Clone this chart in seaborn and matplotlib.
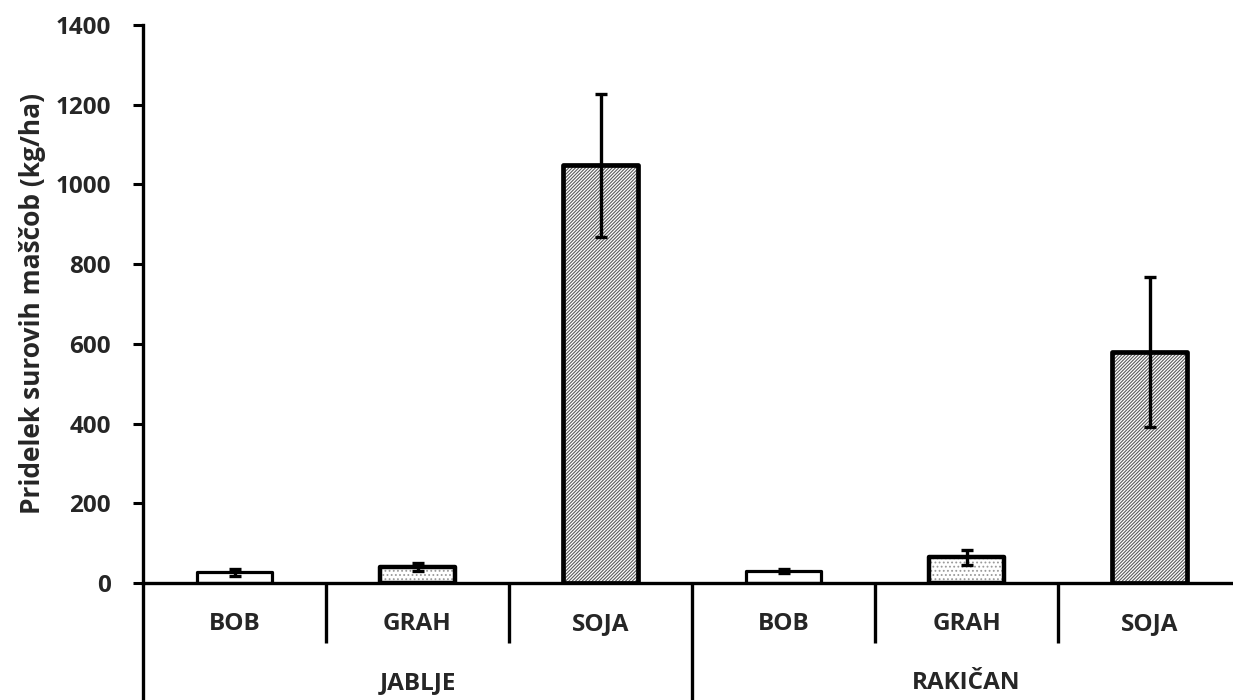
import matplotlib
matplotlib.use("Agg")
import matplotlib.pyplot as plt
import matplotlib.transforms as mtransforms
import seaborn as sns
import pandas as pd

# Crude fat yield per crop and location
locations = ["JABLJE", "RAKIČAN"]
crops = ["BOB", "GRAH", "SOJA"]
yield_jablje = [27, 40, 1048]
err_jablje = [9, 10, 180]
yield_rakican = [30, 64, 580]
err_rakican = [5, 19, 188]
y_ticks = [0, 200, 400, 600, 800, 1000, 1200, 1400]

sns.set_theme(style="white")
plt.rcParams["font.family"] = ["Open Sans", "DejaVu Sans"]
plt.rcParams["font.weight"] = "bold"
plt.rcParams["hatch.linewidth"] = 0.8

FS = 17.5

values = yield_jablje + yield_rakican
errors = err_jablje + err_rakican
labels = [f"{loc}|{c}" for loc in locations for c in crops]
df = pd.DataFrame({"cat": labels, "val": values})

W, H = 1233, 700
fig = plt.figure(figsize=(W / 100, H / 100), dpi=100)
ax = fig.add_axes([143 / W, (700 - 583) / H, (1241 - 143) / W, (583 - 25) / H])

bar_w = 0.41
sns.barplot(data=df, x="cat", y="val", order=labels, color="white",
            width=bar_w, errorbar=None, ax=ax, saturation=1)

hatches = {"BOB": "", "GRAH": "....", "SOJA": "//////////"}
hatch_cols = {"BOB": "white", "GRAH": "#9a9a9a", "SOJA": "#5a5a5a"}
lws = {"BOB": 2.3, "GRAH": 3.2, "SOJA": 3.4}
for patch, lab in zip(ax.patches, labels):
    crop = lab.split("|")[1]
    patch.set_hatch(hatches[crop])
    patch.set_edgecolor(hatch_cols[crop])
    patch.set_linewidth(0)

# black outlines on top of the hatched fills
xs = list(range(len(labels)))
for x, v, lab in zip(xs, values, labels):
    crop = lab.split("|")[1]
    ax.bar(x, v, width=bar_w, fill=False, edgecolor="black",
           linewidth=lws[crop], joinstyle="round", zorder=3)

ax.errorbar(xs, values, yerr=errors, fmt="none", ecolor="black",
            elinewidth=2.4, capsize=4, capthick=2.4, zorder=4)

ax.set_xlim(-0.5, len(labels) - 0.5)
ax.set_ylim(0, 1400)
ax.set_yticks(y_ticks)
ax.set_yticklabels([str(t) for t in y_ticks], fontsize=FS, fontweight="bold")
ax.set_ylabel("Pridelek surovih maščob (kg/ha)", fontsize=19,
              fontweight="bold", labelpad=7)
ax.set_xlabel("")
ax.set_xticks([])
ax.tick_params(axis="y", direction="out", length=7, width=2.2, color="black",
               left=True, pad=16)

for side in ["top", "right"]:
    ax.spines[side].set_visible(False)
ax.spines["left"].set_linewidth(2.4)
ax.spines["bottom"].set_linewidth(2.4)
ax.spines["left"].set_color("black")
ax.spines["bottom"].set_color("black")

# multi-level category axis below the plot
tr = mtransforms.blended_transform_factory(ax.transData, ax.transAxes)
short_y = -(643 - 583) / 558
long_y = -(700 - 583) / 558 - 0.02
for i in range(len(labels) + 1):
    xb = i - 0.5
    y_end = long_y if i % len(crops) == 0 else short_y
    ax.plot([xb, xb], [0, y_end], color="black", lw=2.4, transform=tr,
            clip_on=False, solid_capstyle="butt")

for x, lab in zip(xs, labels):
    ax.text(x, -(624 - 583) / 558, lab.split("|")[1], transform=tr,
            ha="center", va="center", fontsize=FS, fontweight="bold")
for g, loc in enumerate(locations):
    xc = g * len(crops) + (len(crops) - 1) / 2
    ax.text(xc, -(683 - 583) / 558, loc, transform=tr,
            ha="center", va="center", fontsize=FS, fontweight="bold")

fig.savefig("out.png", dpi=100)
